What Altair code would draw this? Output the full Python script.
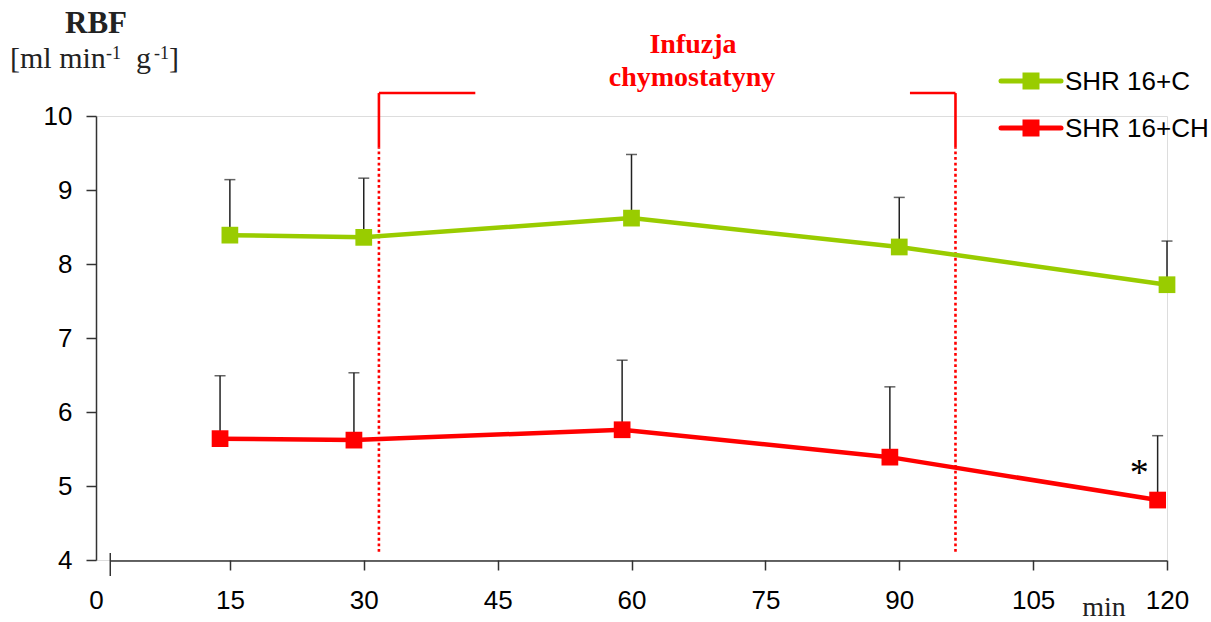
import altair as alt
import pandas as pd

# ---- data ----
series_names = ["SHR 16+C", "SHR 16+CH"]
series_colors = ["#99CC00", "#FF0000"]

time_c = [15, 30, 60, 90, 120]
rbf_c = [8.39, 8.36, 8.62, 8.23, 7.72]
upper_c = [9.14, 9.16, 9.48, 8.90, 8.31]

time_ch = [13.9, 28.9, 58.95, 88.95, 118.95]
rbf_ch = [5.64, 5.62, 5.76, 5.39, 4.81]
upper_ch = [6.49, 6.53, 6.70, 6.34, 5.68]

x_ticks = [0, 15, 30, 45, 60, 75, 90, 105, 120]
y_ticks = [4, 5, 6, 7, 8, 9, 10]

# infusion period (minutes) and bracket geometry (data units)
infusion_start = 31.7
infusion_end = 96.3
bracket_x = [31.7, 31.7, 96.3, 91.2]
bracket_x2 = [31.7, 42.5, 96.3, 96.3]
bracket_y = [9.57, 10.31, 9.57, 10.31]
bracket_y2 = [10.31, 10.31, 10.31, 10.31]
dotted_y = [4.11, 9.57]

star_time = 116.9
star_value = 5.01

df = pd.DataFrame({
    "series": [series_names[0]] * len(time_c) + [series_names[1]] * len(time_ch),
    "time": time_c + time_ch,
    "rbf": rbf_c + rbf_ch,
    "upper": upper_c + upper_ch,
})

W, H = 1071, 444
LEFT, TOP = 96, 116
SANS = "Liberation Sans"
SERIF = "Liberation Serif"
AXIS_COLOR = "#333333"

xs = alt.Scale(domain=[0, 120], nice=False, zero=False)
ys = alt.Scale(domain=[4, 10], nice=False, zero=False)
color = alt.Color("series:N", scale=alt.Scale(domain=series_names, range=series_colors), legend=None)

x_axis = alt.Axis(values=x_ticks, domain=False, grid=False, tickSize=10, tickWidth=1.5,
                  tickColor=AXIS_COLOR, labelFlush=False, format="d",
                  tickOpacity={"condition": {"test": "datum.value == 0", "value": 0}, "value": 1},
                  labelFont=SANS, labelFontSize=26, labelColor="#000", labelPadding=17,
                  title=None)
y_axis = alt.Axis(values=y_ticks, grid=False, tickSize=10, tickWidth=1.5, tickColor=AXIS_COLOR,
                  domainColor=AXIS_COLOR, domainWidth=1.5, format="d",
                  labelFont=SANS, labelFontSize=26, labelColor="#000", labelPadding=14,
                  title=None)

base = alt.Chart(df)

errbar = base.mark_rule(color="#222222", strokeWidth=1.5).encode(
    x=alt.X("time:Q", scale=xs, axis=x_axis, title=None),
    y=alt.Y("rbf:Q", scale=ys, axis=y_axis, title=None),
    y2=alt.Y2("upper:Q", title=None),
)
caps = base.mark_tick(orient="horizontal", size=11, thickness=1.5, color="#222222").encode(
    x=alt.X("time:Q", title=None),
    y=alt.Y("upper:Q", title=None),
)
lines = base.mark_line(strokeWidth=4.5).encode(
    x=alt.X("time:Q", title=None),
    y=alt.Y("rbf:Q", title=None),
    color=color,
    detail="series:N",
)
points = base.mark_point(shape="square", filled=True, size=280, opacity=1).encode(
    x=alt.X("time:Q", title=None),
    y=alt.Y("rbf:Q", title=None),
    color=color,
)

# infusion markers
dotted_df = pd.DataFrame({"t": [infusion_start, infusion_end],
                          "y0": [dotted_y[0]] * 2, "y1": [dotted_y[1]] * 2})
dotted = alt.Chart(dotted_df).mark_rule(color="#FF0000", strokeWidth=2.6, strokeDash=[2.8, 2.8]).encode(
    x=alt.X("t:Q", title=None), y=alt.Y("y0:Q", title=None), y2=alt.Y2("y1:Q", title=None)
)
bracket_df = pd.DataFrame({"bx": bracket_x, "bx2": bracket_x2, "by": bracket_y, "by2": bracket_y2})
bracket = alt.Chart(bracket_df).mark_rule(color="#FF0000", strokeWidth=2.6).encode(
    x=alt.X("bx:Q", title=None), x2=alt.X2("bx2:Q", title=None),
    y=alt.Y("by:Q", title=None), y2=alt.Y2("by2:Q", title=None),
)

# custom x axis line (starts a little right of the y axis, as in the reference)
xaxis_line = alt.Chart(pd.DataFrame({"a": [1.6], "b": [120]})).mark_rule(
    color=AXIS_COLOR, strokeWidth=1.5).encode(
    x=alt.X("a:Q", title=None), x2=alt.X2("b:Q", title=None), y=alt.value(445))
xaxis_start = alt.Chart(pd.DataFrame({"a": [1.6]})).mark_rule(
    color=AXIS_COLOR, strokeWidth=1.5).encode(
    x=alt.X("a:Q", title=None), y=alt.value(437), y2=alt.value(460))

star = alt.Chart(pd.DataFrame({"t": [star_time], "v": [star_value], "s": ["*"]})).mark_text(
    font=SERIF, fontSize=38, color="#000", baseline="alphabetic", align="center").encode(
    x=alt.X("t:Q", title=None), y=alt.Y("v:Q", title=None), text="s:N")


def label(txt, x, y, size, font=SERIF, weight="normal", col="#000", align="left"):
    return alt.Chart(pd.DataFrame({"s": [txt]})).mark_text(
        font=font, fontSize=size, fontWeight=weight, color=col, align=align,
        baseline="alphabetic").encode(x=alt.value(x - LEFT), y=alt.value(y - TOP), text="s:N")


texts = [
    label("RBF", 96, 33, 31, weight="bold", col="#222", align="center"),
    label("[ml min", 10, 68, 30, col="#222"),
    label("-1", 106, 59, 18, col="#222"),
    label("g", 136, 68, 30, col="#222"),
    label("-1", 154, 59, 18, col="#222"),
    label("]", 169, 68, 30, col="#222"),
    label("Infuzja", 693, 53, 28, weight="bold", col="#FF0000", align="center"),
    label("chymostatyny", 692, 86, 28, weight="bold", col="#FF0000", align="center"),
    label("min", 1104, 616, 28, col="#222", align="center"),
]

# legend
legend_layers = []
for i, (name, col) in enumerate(zip(series_names, series_colors)):
    ly = [81, 128][i] - TOP
    ldf = pd.DataFrame({"s": [name]})
    legend_layers.append(alt.Chart(ldf).mark_rule(color=col, strokeWidth=5, strokeCap="round").encode(
        x=alt.value(1001 - LEFT), x2=alt.value(1061 - LEFT), y=alt.value(ly)))
    legend_layers.append(alt.Chart(ldf).mark_point(shape="square", filled=True, size=289, opacity=1,
                                                   color=col).encode(
        x=alt.value(1031 - LEFT), y=alt.value(ly)))
    legend_layers.append(alt.Chart(ldf).mark_text(font=SANS, fontSize=26, color="#000", align="left",
                                                  baseline="middle").encode(
        x=alt.value(1065 - LEFT), y=alt.value(ly + 1), text="s:N"))

chart = alt.layer(
    errbar, caps, dotted, bracket, lines, points, xaxis_line, xaxis_start, star,
    *texts, *legend_layers
).properties(
    width=W, height=H,
    padding={"left": LEFT, "top": TOP, "right": 1211 - LEFT - W, "bottom": 622 - TOP - H},
    autosize="none",
).configure_view(stroke=None).configure(background="white")

chart.save("out.html", embed_options={"renderer": "svg", "actions": False})
